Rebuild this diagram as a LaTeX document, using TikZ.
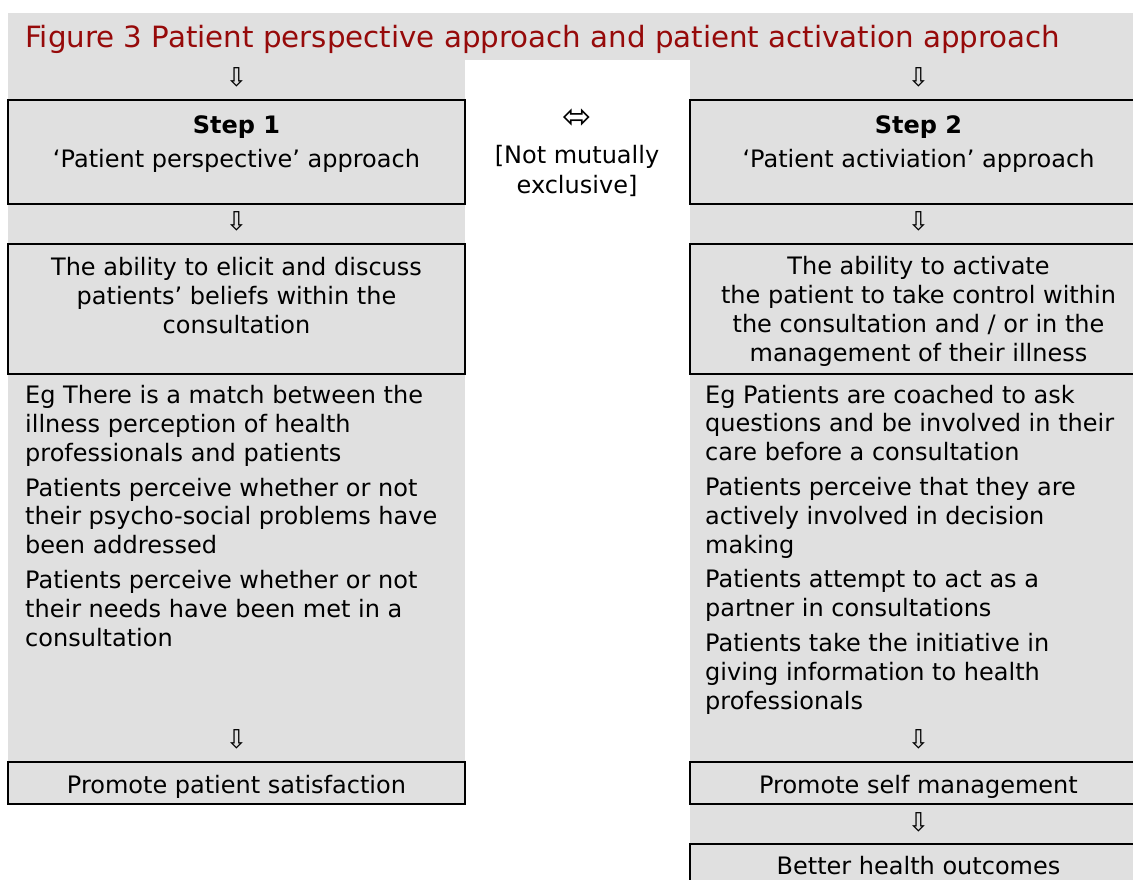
\documentclass[tikz,border=0pt]{standalone}
\usepackage{fontspec}
\setmainfont{DejaVu Sans}
\definecolor{panel}{RGB}{224,224,224}
\definecolor{titlered}{RGB}{150,10,10}

\begin{document}
\begin{tikzpicture}[x=1pt, y=-1pt,
    every node/.style={inner sep=0pt, font=\fontsize{24}{28.8}\selectfont},
    stepbox/.style={draw, line width=2.2pt, fill=panel, minimum width=457pt, align=center, anchor=north},
    eglist/.style={align=left, anchor=base west},
    darrow/.style={font=\fontsize{26}{28}\selectfont}]
    \useasboundingbox (0,0) rectangle (1133,879);
    \clip (0,0) rectangle (1133,879);

    % grey panels behind the two columns
    \fill[panel] (8,13) rectangle (1147,60);
    \fill[panel] (8,60) rectangle (465,803);
    \fill[panel] (690,60) rectangle (1147,879);

    \node[anchor=base west, text=titlered, font=\fontsize{29.3}{34}\selectfont] (title) at (25,47)
        {Figure 3 Patient perspective approach and patient activation approach};

    % left column
    \node[darrow] (la1) at (236.5,77.5) {⇩};
    \node[stepbox, text height=67pt, text depth=37pt] (step1) at (236.5,99)
        {\textbf{Step 1}\\[5pt]‘Patient perspective’ approach};
    \node[darrow] (la2) at (236.5,221) {⇩};
    \node[stepbox, text height=89pt, text depth=41pt] (elicit) at (236.5,243)
        {The ability to elicit and discuss\\patients’ beliefs within the\\consultation};
    \node[eglist] (egleft) at (25,646)
        {Eg There is a match between the\\illness perception of health\\professionals and patients\\[6pt]
         Patients perceive whether or not\\their psycho-social problems have\\been addressed\\[6pt]
         Patients perceive whether or not\\their needs have been met in a\\consultation};
    \node[darrow] (la3) at (236.5,739) {⇩};
    \node[stepbox, text height=31pt, text depth=11pt] (satisf) at (236.5,761)
        {Promote patient satisfaction};

    % middle
    \node[font=\fontsize{35}{36}\selectfont] (both) at (577.5,119) {⬄};
    \node[align=center, anchor=base] (notmut) at (577,193) {[Not mutually\\[1pt]exclusive]};

    % right column
    \node[darrow] (ra1) at (918.5,77.5) {⇩};
    \node[stepbox, text height=67pt, text depth=37pt] (step2) at (918.5,99)
        {\textbf{Step 2}\\[5pt]‘Patient activiation’ approach};
    \node[darrow] (ra2) at (918.5,221) {⇩};
    \node[stepbox, text height=117pt, text depth=13pt] (activ) at (918.5,243)
        {The ability to activate\\the patient to take control within\\the consultation and / or in the\\management of their illness};
    \node[eglist] (egright) at (705,709)
        {Eg Patients are coached to ask\\questions and be involved in their\\care before a consultation\\[6pt]
         Patients perceive that they are\\actively involved in decision\\making\\[6pt]
         Patients attempt to act as a\\partner in consultations\\[6pt]
         Patients take the initiative in\\giving information to health\\professionals};
    \node[darrow] (ra3) at (918.5,739) {⇩};
    \node[stepbox, text height=31pt, text depth=11pt] (selfman) at (918.5,761)
        {Promote self management};
    \node[darrow] (ra4) at (918.5,822) {⇩};
    \node[stepbox, text height=30pt, text depth=40pt] (outcome) at (918.5,843)
        {Better health outcomes};
\end{tikzpicture}
\end{document}
